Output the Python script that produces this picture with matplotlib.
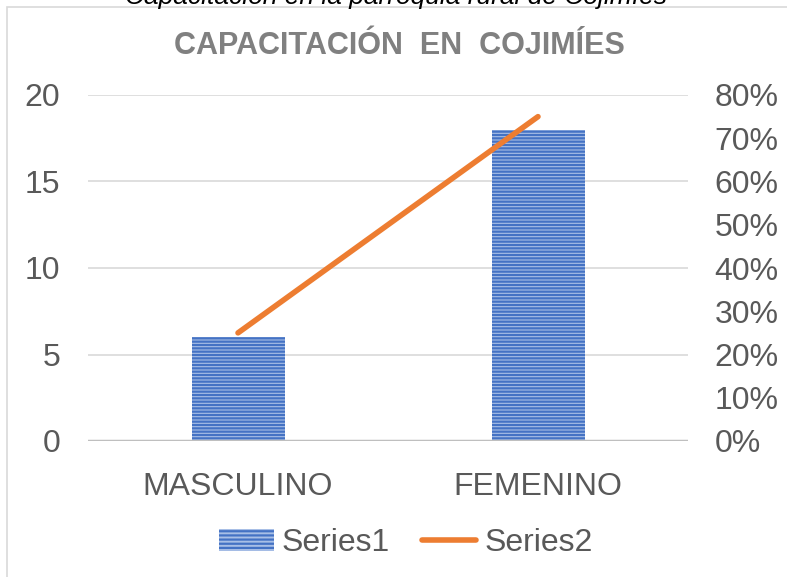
import matplotlib.pyplot as plt
import numpy as np
from matplotlib.patches import Rectangle
from matplotlib.lines import Line2D

categories = ['MASCULINO', 'FEMENINO']
series1 = [6, 18]
series2 = [0.25, 0.75]
left_ticks = [0, 5, 10, 15, 20]
right_ticks = [0.0, 0.1, 0.2, 0.3, 0.4, 0.5, 0.6, 0.7, 0.8]

plt.rcParams['font.family'] = ['Liberation Sans', 'DejaVu Sans']
plt.rcParams['hatch.linewidth'] = 1.6

fig = plt.figure(figsize=(7.87, 5.77), dpi=100)
W, H = 787, 577

# chart border (light gray)
fig.patches.append(Rectangle((7 / W, -0.1), 1.2, (H - 7) / H + 0.1, transform=fig.transFigure,
                             fill=False, edgecolor='#d9d9d9', linewidth=1.2))

# cut-off caption at top
fig.text(396 / W, 1 + 3 / H, 'Capacitación en la parroquia rural de Cojimíes', ha='center', va='center',
         fontsize=19, style='italic', color='black')

ax = fig.add_axes([88 / W, 1 - 441 / H, 600 / W, 346 / H])
x = np.arange(len(categories))
ax.bar(x, series1, width=0.31, color='#a8bfe6', edgecolor='#4472c4', hatch='-----',
       linewidth=0, zorder=3)
ax.set_xlim(-0.5, 1.5)
ax.set_ylim(0, 20)
ax.set_yticks(left_ticks)
ax.set_xticks(x)
ax.set_xticklabels(categories)
for s in ax.spines.values():
    s.set_visible(False)
ax.grid(axis='y', color='#d9d9d9', linewidth=1.2, zorder=0)
ax.axhline(0, color='#bfbfbf', linewidth=2.5, zorder=4)
ax.tick_params(length=0, labelsize=23, colors='#595959')
ax.tick_params(axis='y', pad=20)
ax.tick_params(axis='x', pad=22)

ax2 = ax.twinx()
ax2.plot(x, series2, color='#ed7d31', linewidth=4, solid_capstyle='round', zorder=5)
ax2.set_ylim(0, 0.8)
ax2.set_yticks(right_ticks)
ax2.set_yticklabels(['{:.0f}%'.format(v * 100) for v in right_ticks])
for s in ax2.spines.values():
    s.set_visible(False)
ax2.tick_params(length=0, labelsize=23, colors='#595959', pad=19)

fig.text(399 / W, 1 - 46 / H, 'CAPACITACIÓN  EN  COJIMÍES', ha='center', va='center',
         fontsize=22, fontweight='bold', color='#808080')

handles = [Rectangle((0, 0), 1, 1, facecolor='#a8bfe6', edgecolor='#4472c4', hatch='----', linewidth=0),
           Line2D([0], [0], color='#ed7d31', linewidth=4, solid_capstyle='round')]
fig.legend(handles, ['Series1', 'Series2'], loc='center', bbox_to_anchor=(406 / W, 1 - 543 / H),
           ncol=2, frameon=False, fontsize=23, labelcolor='#595959', handlelength=1.7,
           handletextpad=0.25, columnspacing=1.0)

fig.savefig('out.png', dpi=100)
